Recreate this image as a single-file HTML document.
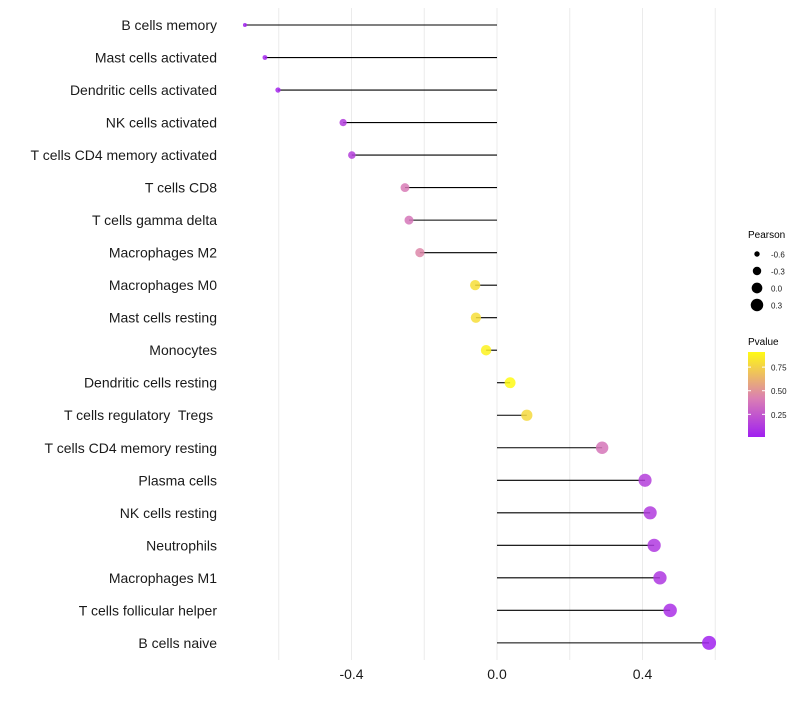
<!DOCTYPE html>
<html><head><meta charset="utf-8"><style>
body{margin:0;background:#fff;font-family:"Liberation Sans",sans-serif;}
text{white-space:pre;}
</style></head><body>
<svg id="chart" width="800" height="700" xmlns="http://www.w3.org/2000/svg" xml:space="preserve"></svg>
<script>
const categories=["B cells memory","Mast cells activated","Dendritic cells activated","NK cells activated","T cells CD4 memory activated","T cells CD8","T cells gamma delta","Macrophages M2","Macrophages M0","Mast cells resting","Monocytes","Dendritic cells resting","T cells regulatory  Tregs ","T cells CD4 memory resting","Plasma cells","NK cells resting","Neutrophils","Macrophages M1","T cells follicular helper","B cells naive"];
const pearson=[-0.693,-0.638,-0.602,-0.423,-0.399,-0.253,-0.242,-0.212,-0.060,-0.058,-0.030,0.036,0.082,0.289,0.407,0.421,0.432,0.448,0.476,0.583];
const pvalue=[0.02,0.03,0.04,0.14,0.15,0.40,0.38,0.45,0.80,0.80,0.88,0.92,0.78,0.38,0.15,0.13,0.12,0.11,0.08,0.02];
const xTicks=[-0.4,0.0,0.4];
const gridVals=[-0.6,-0.4,-0.2,0,0.2,0.4,0.6];
const legendPearson=[-0.6,-0.3,0.0,0.3];
const legendP=[0.75,0.50,0.25];
const NS="http://www.w3.org/2000/svg";
const svg=document.getElementById('chart');
const x=v=>497+v*363.75;
const y=i=>25+i*32.52;
const r=v=>Math.sqrt(Math.max(1,28.5+35.4*v));
const pmin=0.01,pmax=0.91;
const stops=[[0,[160,32,240]],[0.45,[218,126,180]],[1,[255,250,20]]];
function col(p){const t=Math.max(0,Math.min(1,(p-pmin)/(pmax-pmin)));let k=t<=stops[1][0]?0:1;const [t0,a]=stops[k],[t1,b]=stops[k+1];const u=(t-t0)/(t1-t0);return `rgb(${a.map((c,j)=>Math.round(c+(b[j]-c)*u)).join(',')})`;}
function el(t,at,parent){const e=document.createElementNS(NS,t);for(const k in at)e.setAttribute(k,at[k]);(parent||svg).appendChild(e);return e;}
gridVals.forEach(v=>{const g=el('line',{x1:x(v),x2:x(v),y1:8,y2:660,stroke:'#ebebeb','stroke-width':1});

});
categories.forEach((c,i)=>{
const t=el('text',{x:217,y:y(i)+5,'text-anchor':'end','font-size':14,fill:'#1a1a1a'});t.textContent=c;


const l=el('line',{x1:x(0),x2:x(pearson[i]),y1:y(i),y2:y(i),stroke:'#000','stroke-width':1.1});


const d=el('circle',{cx:x(pearson[i]),cy:y(i),r:r(pearson[i]),fill:col(pvalue[i]),'fill-opacity':0.85});


});
xTicks.forEach(v=>{const t=el('text',{x:x(v),y:679,'text-anchor':'middle','font-size':14,fill:'#1a1a1a'});t.textContent=v.toFixed(1);

});
const lt=el('text',{x:748,y:238,'font-size':10,fill:'#000'});lt.textContent='Pearson';


legendPearson.forEach((v,i)=>{const cy=254+i*17;
const c=el('circle',{cx:757,cy:cy,r:r(v),fill:'#000'});


const t=el('text',{x:771,y:cy+3.5,'font-size':8,fill:'#1a1a1a'});t.textContent=v.toFixed(1);

});
const pt=el('text',{x:748,y:345,'font-size':10,fill:'#000'});pt.textContent='Pvalue';


const defs=el('defs',{});const gr=el('linearGradient',{id:'pg',x1:0,y1:1,x2:0,y2:0},defs);
[0,0.25,0.45,0.7,1].forEach(o=>el('stop',{offset:o,'stop-color':col(pmin+o*(pmax-pmin))},gr));
const bar=el('rect',{x:748,y:352,width:17,height:85,fill:'url(#pg)'});


const py=p=>437-(p-pmin)/(pmax-pmin)*85;
legendP.forEach(v=>{el('line',{x1:748,x2:751,y1:py(v),y2:py(v),stroke:'#fff'});el('line',{x1:762,x2:765,y1:py(v),y2:py(v),stroke:'#fff'});
const t=el('text',{x:771,y:py(v)+3.5,'font-size':8,fill:'#1a1a1a'});t.textContent=v.toFixed(2);

});
</script>
</body></html>
